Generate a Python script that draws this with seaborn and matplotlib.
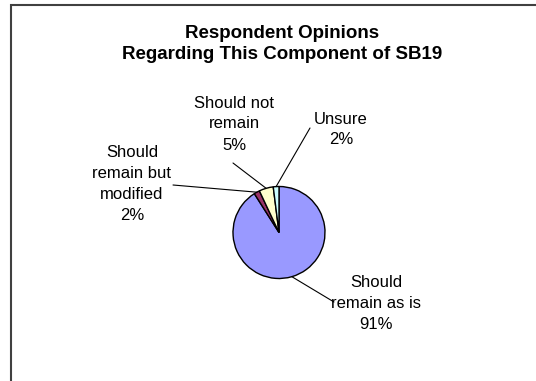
import numpy as np
import matplotlib.pyplot as plt
import seaborn as sns
from matplotlib.patches import Rectangle

# data
labels = ["Should\nremain as is", "Should\nremain but\nmodified", "Should not\nremain", "Unsure"]
shares = [91, 2, 5, 2]
colors = ["#9999FF", "#993366", "#FFFFCC", "#CCFFFF"]

# label centres and leader line ends, pixels from top-left
label_pos = [(376, 303.5), (132, 184), (234, 124), (341, 129.5)]
line_end = [(334, 302), (173, 185), (233, 163), (310, 128)]

W, H = 536, 381
sns.set_style("white")
plt.rcParams['font.family'] = ['Liberation Sans', 'DejaVu Sans']
plt.rcParams['text.color'] = 'black'

fig = plt.figure(figsize=(W / 100, H / 100), dpi=100)
ax = fig.add_axes([0, 0, 1, 1])

cx, cy, r = 279, H - 232.5, 46
wedges, _ = ax.pie(shares, colors=colors, startangle=90, counterclock=False,
                   center=(cx, cy), radius=r,
                   wedgeprops=dict(edgecolor='black', linewidth=1))
ax.set_xlim(0, W)
ax.set_ylim(0, H)
ax.axis('off')

for w, lab, val, (tx, ty), (ex, ey) in zip(wedges, labels, shares, label_pos, line_end):
    mid = np.deg2rad((w.theta1 + w.theta2) / 2)
    px, py = cx + r * np.cos(mid), cy + r * np.sin(mid)
    ax.plot([px, ex], [py, H - ey], color='black', lw=0.8)
    ax.text(tx, H - ty, f"{lab}\n{val}%", ha='center', va='center',
            fontsize=12, linespacing=1.5, color='black')

ax.text(282, H - 24.5, "Respondent Opinions\nRegarding This Component of SB19",
        ha='center', va='top', fontsize=13.5, fontweight='bold',
        linespacing=1.35, color='black')

# chart area border (runs off the right and bottom)
ax.add_patch(Rectangle((11, -50), 700, H - 4.5 + 50, fill=False,
                       edgecolor='#404040', lw=1.5, clip_on=False))

fig.savefig("out.png", dpi=100)
